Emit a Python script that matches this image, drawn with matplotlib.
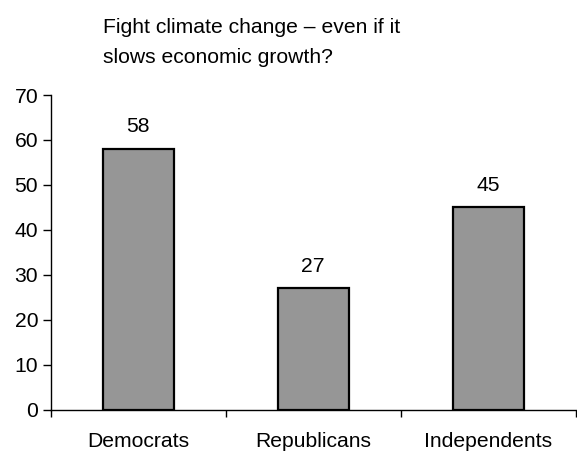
import matplotlib
matplotlib.use("Agg")
import matplotlib.pyplot as plt

plt.rcParams['font.family'] = ['Liberation Sans', 'DejaVu Sans']

parties = ["Democrats", "Republicans", "Independents"]
values = [58, 27, 45]
title_lines = ["Fight climate change \u2013 even if it", "slows economic growth?"]

FS = 15.2

fig = plt.figure(figsize=(5.77, 4.51), dpi=100)
ax = fig.add_axes([0.0879, 0.0916, 0.9101, 0.6977])

x = range(len(parties))
bars = ax.bar(x, values, width=0.405, color="#969696", edgecolor="black", linewidth=1.6)

for xi, v in zip(x, values):
    ax.annotate(str(v), (xi, v), xytext=(0, 12), textcoords="offset points",
                ha="center", va="baseline", fontsize=FS)

ax.set_xlim(-0.5, 2.5)
ax.set_ylim(0, 70)
ax.set_yticks(range(0, 71, 10))
ax.set_xticks(list(x))
ax.set_xticklabels(parties)
ax.set_xticks([-0.5, 0.5, 1.5, 2.5], minor=True)

ax.tick_params(axis="x", which="major", length=0, pad=16, labelsize=FS)
ax.tick_params(axis="x", which="minor", length=5, width=1, direction="out")
ax.tick_params(axis="y", length=6, width=1, direction="out", pad=3, labelsize=FS)

ax.spines["top"].set_visible(False)
ax.spines["right"].set_visible(False)
ax.spines["left"].set_linewidth(1)
ax.spines["bottom"].set_linewidth(1)

fig.text(103 / 577, 1 - 33 / 451, title_lines[0], fontsize=FS, va="baseline")
fig.text(103 / 577, 1 - 63 / 451, title_lines[1], fontsize=FS, va="baseline")

fig.savefig("out.png", dpi=100)
